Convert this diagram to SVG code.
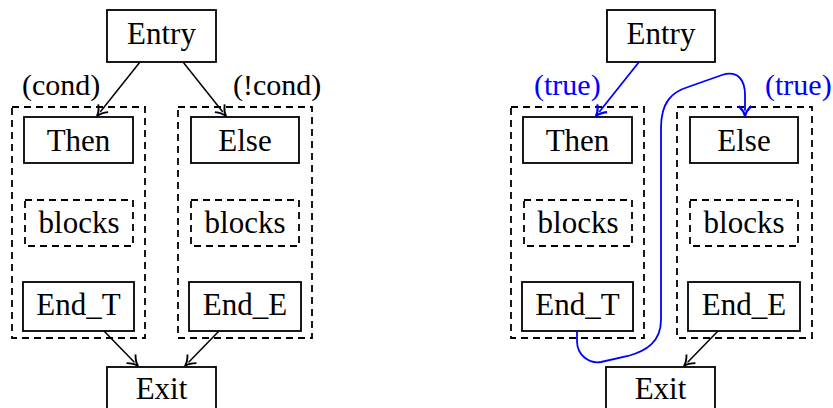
<svg xmlns="http://www.w3.org/2000/svg" width="833" height="408" viewBox="0 0 833 408">
  <style>
    .box { fill: #ffffff; stroke: #000000; stroke-width: 1.8; }
    .dash { fill: none; stroke: #000000; stroke-width: 1.8; stroke-dasharray: 7 5; }
    .lbl { font-family: "Liberation Serif", "Times New Roman", serif; font-size: 31px; fill: #000000; text-anchor: middle; }
    .cond { font-family: "Liberation Serif", "Times New Roman", serif; font-size: 30px; fill: #000000; }
    .blue { fill: #0000ff; }
    .edge { fill: none; stroke: #000000; stroke-width: 1.5; marker-end: url(#tip); }
    .edgeb { fill: none; stroke: #0000ff; stroke-width: 1.8; marker-end: url(#tipb); }
  </style>
  <defs>
    <marker id="tip" markerUnits="userSpaceOnUse" markerWidth="20" markerHeight="20" viewBox="-10 -8 12 16" refX="0" refY="0" orient="auto" overflow="visible">
      <path d="M -8 -5 C -5 -2 -2 -0.5 0 0 C -2 0.5 -5 2 -8 5 L -4 0 Z" fill="#c4c4f4" stroke="none"/>
      <path d="M -8 -5 C -5 -2 -2 -0.5 0 0 C -2 0.5 -5 2 -8 5" fill="none" stroke="#000000" stroke-width="1.5"/>
    </marker>
    <marker id="tipb" markerUnits="userSpaceOnUse" markerWidth="20" markerHeight="20" viewBox="-10 -8 12 16" refX="0" refY="0" orient="auto" overflow="visible">
      <path d="M -8 -5 C -5 -2 -2 -0.5 0 0 C -2 0.5 -5 2 -8 5 L -4 0 Z" fill="#c4c4f4" stroke="none"/>
      <path d="M -8 -5 C -5 -2 -2 -0.5 0 0 C -2 0.5 -5 2 -8 5" fill="none" stroke="#0000ff" stroke-width="1.8"/>
    </marker>
  </defs>

  <!-- Left: if/else with separate branches -->
  <g id="left-then-region"><rect class="dash" x="12" y="107" width="133" height="231"/></g>
  <g id="left-else-region"><rect class="dash" x="178" y="107" width="134" height="231"/></g>

  <g id="left-entry"><rect class="box" x="107" y="10" width="109" height="52"/><text class="lbl" x="161.5" y="44">Entry</text></g>
  <g id="left-then"><rect class="box" x="24" y="117" width="109" height="46"/><text class="lbl" x="78.5" y="151">Then</text></g>
  <g id="left-else"><rect class="box" x="191" y="117" width="108" height="46"/><text class="lbl" x="245" y="151">Else</text></g>
  <g id="left-blocks-t"><rect class="dash" x="25" y="200" width="108" height="46"/><text class="lbl" x="79" y="233">blocks</text></g>
  <g id="left-blocks-e"><rect class="dash" x="191" y="200" width="108" height="46"/><text class="lbl" x="245" y="233">blocks</text></g>
  <g id="left-end-t"><rect class="box" x="23" y="282" width="111" height="49"/><text class="lbl" x="78.5" y="315">End_T</text></g>
  <g id="left-end-e"><rect class="box" x="189" y="282" width="112" height="49"/><text class="lbl" x="245" y="315">End_E</text></g>
  <g id="left-exit"><rect class="box" x="107" y="367" width="109" height="52"/><text class="lbl" x="161.5" y="399">Exit</text></g>

  <!-- Right: branches merged, both guarded by (true) -->
  <g id="right-then-region"><rect class="dash" x="511" y="107" width="133" height="231"/></g>
  <g id="right-else-region"><rect class="dash" x="677" y="107" width="135" height="231"/></g>

  <g id="right-entry"><rect class="box" x="607" y="10" width="108" height="52"/><text class="lbl" x="661" y="44">Entry</text></g>
  <g id="right-then"><rect class="box" x="523" y="117" width="109" height="46"/><text class="lbl" x="577.5" y="151">Then</text></g>
  <g id="right-else"><rect class="box" x="690" y="117" width="108" height="46"/><text class="lbl" x="744" y="151">Else</text></g>
  <g id="right-blocks-t"><rect class="dash" x="524" y="200" width="108" height="46"/><text class="lbl" x="578" y="233">blocks</text></g>
  <g id="right-blocks-e"><rect class="dash" x="690" y="200" width="108" height="46"/><text class="lbl" x="744" y="233">blocks</text></g>
  <g id="right-end-t"><rect class="box" x="522" y="282" width="111" height="49"/><text class="lbl" x="577.5" y="315">End_T</text></g>
  <g id="right-end-e"><rect class="box" x="688" y="282" width="112" height="49"/><text class="lbl" x="744" y="315">End_E</text></g>
  <g id="right-exit"><rect class="box" x="606" y="367" width="109" height="52"/><text class="lbl" x="660.5" y="399">Exit</text></g>

  <!-- Connectors -->
  <g id="connectors">
    <path class="edge" d="M 140 62 L 97 116"/>
    <path class="edge" d="M 183 62 L 226 116"/>
    <path class="edge" d="M 104 331 L 138 366"/>
    <path class="edge" d="M 219 331 L 185 366"/>
    <text class="cond" x="22" y="95">(cond)</text>
    <text class="cond" x="233" y="95">(!cond)</text>

    <path class="edgeb" d="M 639 62 L 596 116"/>
    <path class="edgeb" d="M 577 331 L 577 341 C 577 355 589 364 601 362 L 628 356 C 646 351 661 342 661 320 L 661 128 C 661 102 672 92 688 87 L 722 75 C 738 70 745 80 745 95 L 745 116"/>
    <path class="edge" d="M 718 331 L 684 366"/>
    <text class="cond blue" x="534" y="95">(true)</text>
    <text class="cond blue" x="765" y="95">(true)</text>
  </g>
</svg>
